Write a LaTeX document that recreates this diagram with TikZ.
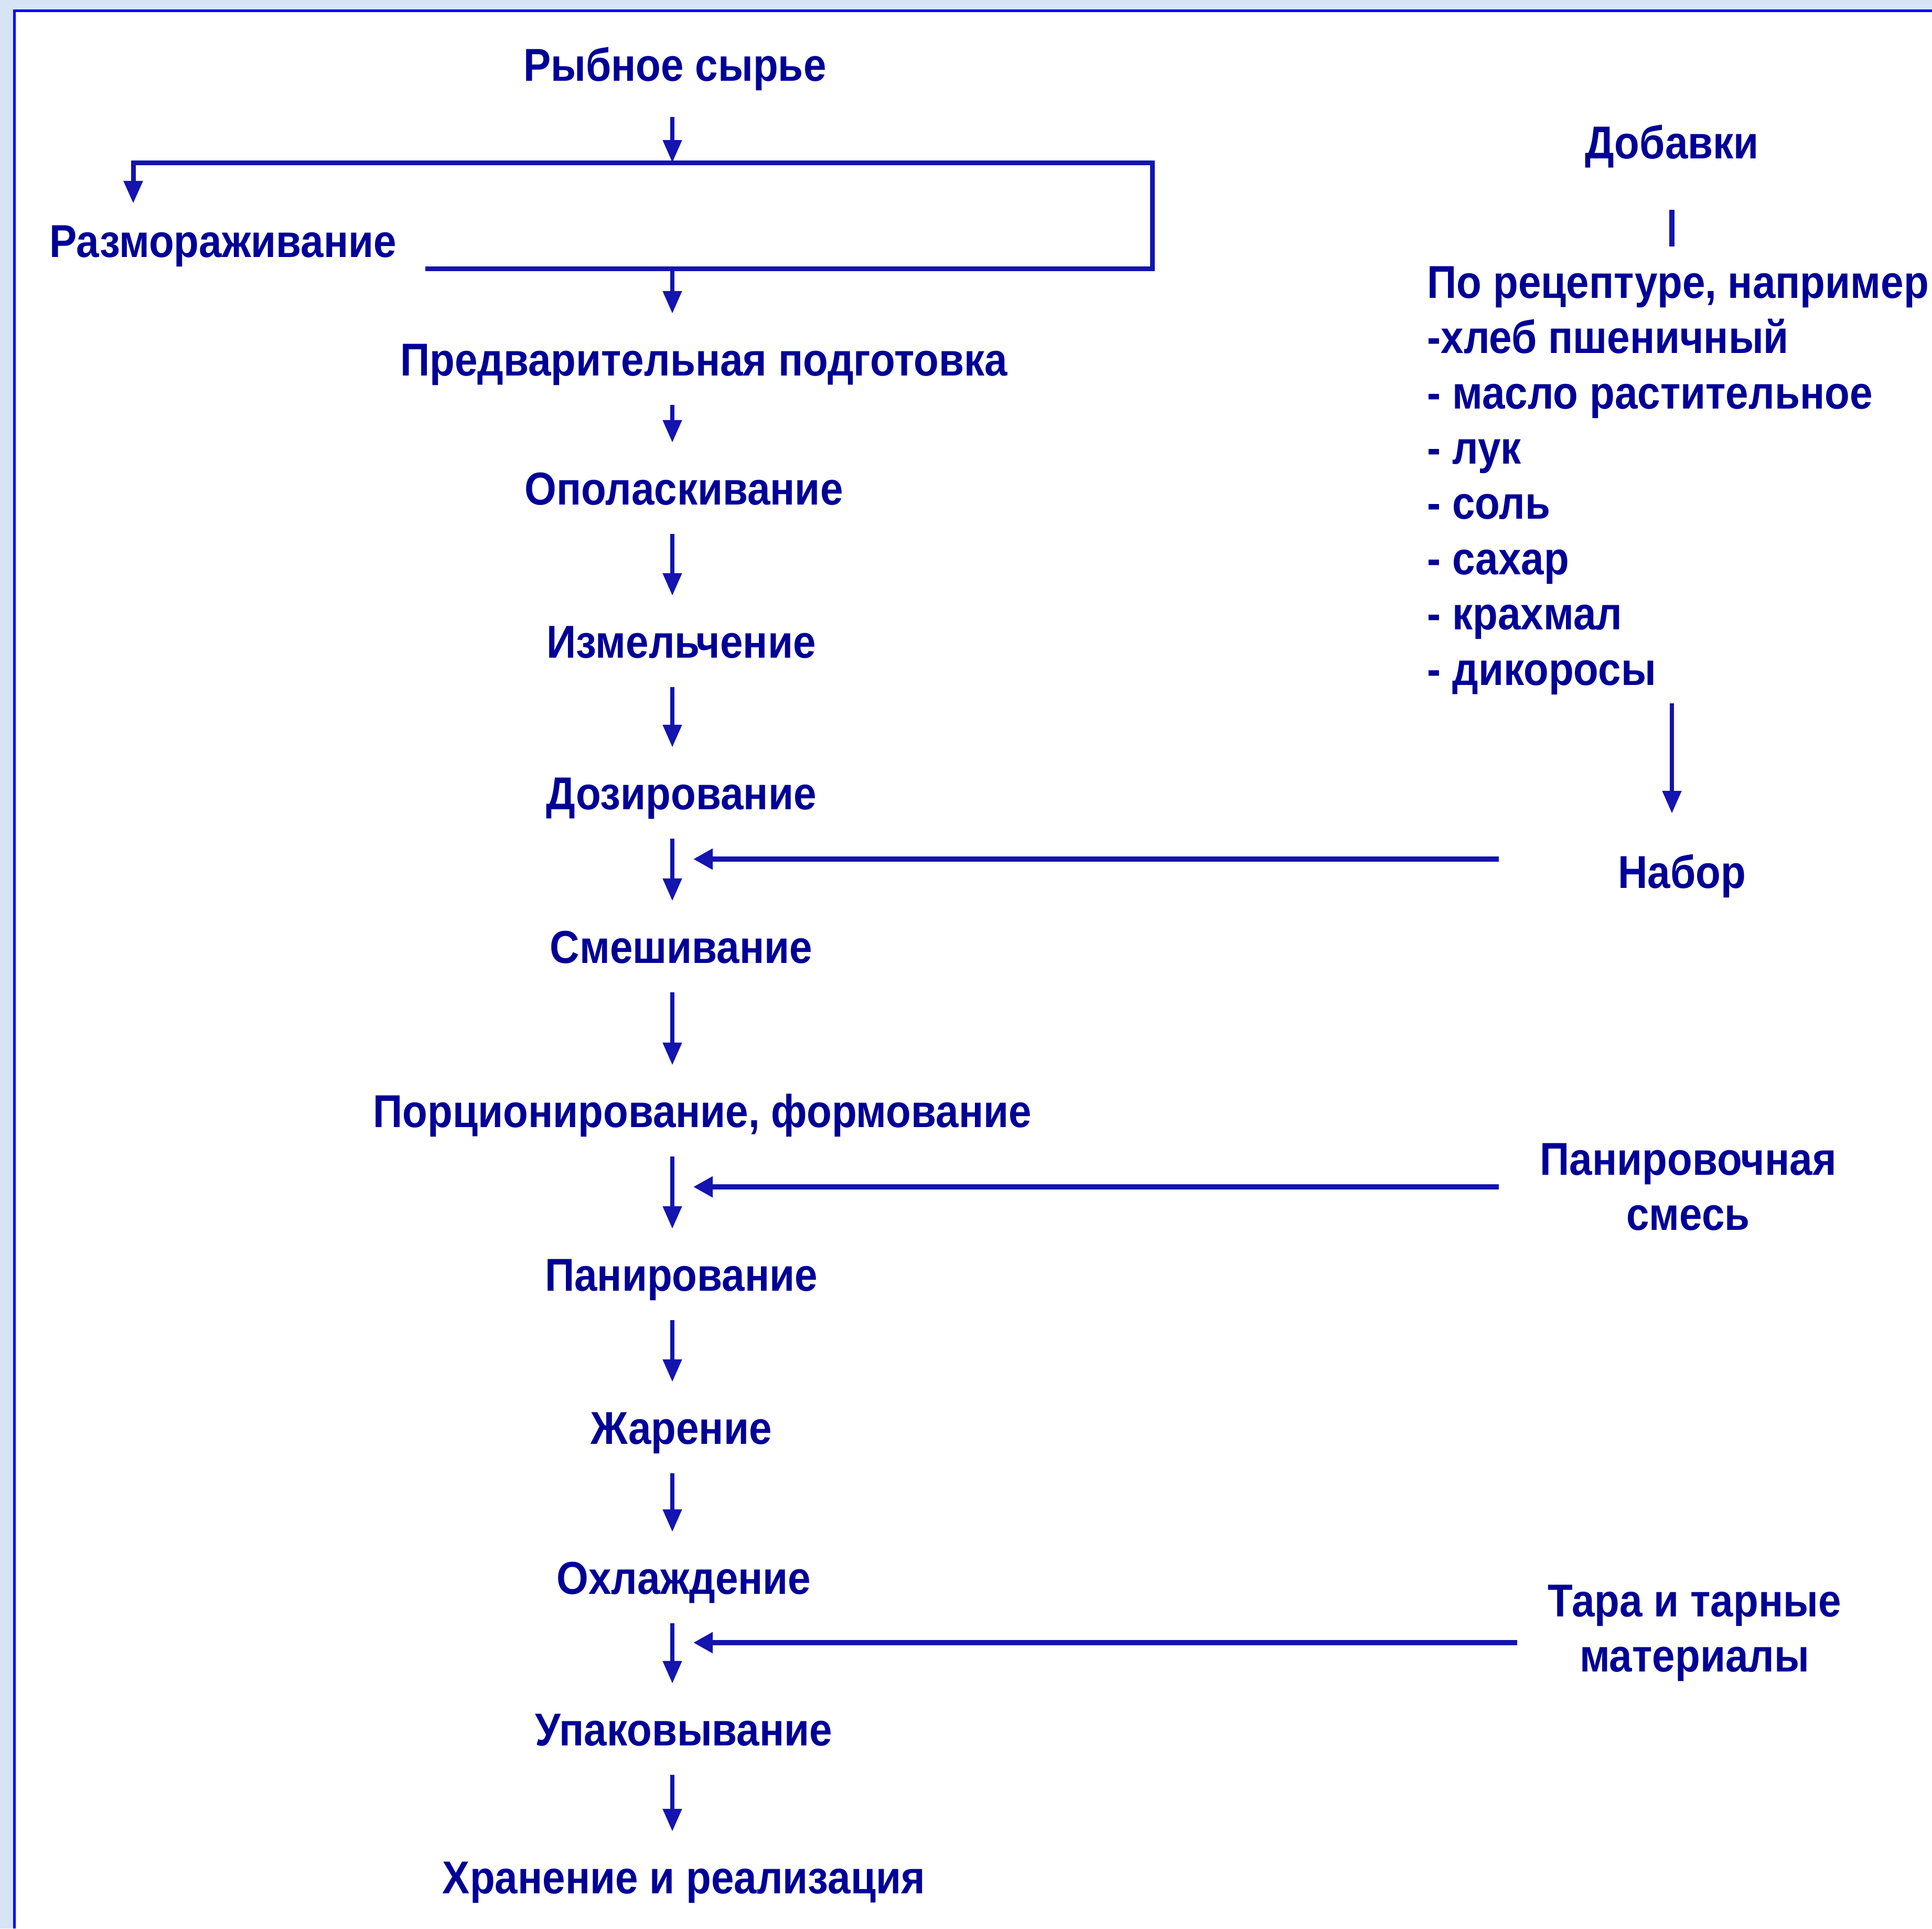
\documentclass[tikz,border=0pt]{standalone}
\usepackage{fontspec}
\setmainfont{Liberation Sans}[FakeStretch=0.89]
\usetikzlibrary{arrows.meta}
\definecolor{fishnavy}{RGB}{0,0,150}
\definecolor{fishline}{RGB}{20,20,175}
\definecolor{fishframe}{RGB}{0,0,255}
\definecolor{fishback}{RGB}{214,228,246}

\begin{document}
\begin{tikzpicture}[
      stage/.style={text=fishnavy, font=\bfseries\fontsize{25}{30}\selectfont, inner sep=0pt, text height=0.65cm, text depth=0cm},
      supply/.style={text=fishnavy, font=\bfseries\fontsize{25}{30}\selectfont, inner sep=0pt, align=center},
      flow/.style={draw=fishline, line width=0.08cm, -{Triangle[length=0.43cm,width=0.35cm]}},
      feed/.style={draw=fishline, line width=0.1cm, -{Triangle[length=0.37cm,width=0.38cm]}},
      pipe/.style={draw=fishline, line width=0.1cm}
    ]
      % page and frame
      \useasboundingbox (0,0) rectangle (36.84,-36.77);
      \fill[fishback] (0,0) rectangle (36.84,-36.77);
      \fill[white] (0.27,-0.20) rectangle (36.84,-36.77);
      \draw[fishframe, line width=0.05cm] (0.27,-36.77) -- (0.27,-0.20) -- (36.84,-0.20);

      % main line
      \node[stage] (raw) at (12.87,-1.22) {Рыбное сырье};
      \node[stage, anchor=west] (thaw) at (0.94,-4.58) {Размораживание};
      \node[stage] (prep) at (13.42,-6.84) {Предварительная подготовка};
      \node[stage] (rinse) at (13.04,-9.30) {Ополаскивание};
      \node[stage] (mince) at (12.99,-12.22) {Измельчение};
      \node[stage] (dose) at (12.99,-15.11) {Дозирование};
      \node[stage] (mix) at (12.99,-18.04) {Смешивание};
      \node[stage] (portion) at (13.39,-21.17) {Порционирование, формование};
      \node[stage] (bread) at (12.99,-24.29) {Панирование};
      \node[stage] (fry) at (12.99,-27.21) {Жарение};
      \node[stage] (cool) at (13.04,-30.07) {Охлаждение};
      \node[stage] (pack) at (13.04,-32.96) {Упаковывание};
      \node[stage] (store) at (13.04,-35.78) {Хранение и реализация};

      % side inputs
      \node[stage] (addit) at (31.88,-2.70) {Добавки};
      \node[supply, align=left, anchor=north west] (recipe) at (27.21,-5.07) {По рецептуре, например:\\-хлеб пшеничный\\- масло растительное\\- лук\\- соль\\- сахар\\- крахмал\\- дикоросы};
      \node[stage] (kit) at (32.07,-16.61) {Набор};
      \node[supply] (crumb) at (32.19,-22.63) {Панировочная\\смесь};
      \node[supply] (tare) at (32.31,-31.14) {Тара и тарные\\материалы};

      \coordinate (axis) at (12.82,0);
      \coordinate (loopnw) at (2.54,-3.10);
      \coordinate (loopne) at (21.97,-3.10);
      \coordinate (loopse) at (21.97,-5.12);
      \coordinate (stub) at (31.88,-4.70);
      \coordinate (j1) at (13.22,-16.38);
      \coordinate (j2) at (13.22,-22.63);
      \coordinate (j3) at (13.22,-31.32);

      % thawing bypass
      \draw[flow, shorten <=0.68cm] (raw.south -| axis) -- (axis |- loopne);
      \draw[flow, line width=0.09cm, shorten >=0.37cm] ([xshift=0.54cm]thaw.east |- loopse) -- (loopse) -- (loopne) -- (loopnw) -- (loopnw |- thaw.north);
      \draw[flow, shorten >=0.53cm] (axis |- loopse) -- (prep.north -| axis);

      \foreach \a/\b in {prep/rinse, rinse/mince, mince/dose, dose/mix, mix/portion, portion/bread, bread/fry, fry/cool, cool/pack, pack/store}
        \draw[flow, shorten <=0.55cm, shorten >=0.53cm] (\a.south -| axis) -- (\b.north -| axis);

      \draw[pipe, shorten <=0.97cm] (addit.south) -- (stub);
      \draw[flow, shorten <=0.16cm, shorten >=0.77cm] (recipe.south -| addit) -- (kit.north -| addit);

      \draw[feed, shorten <=2.26cm] (kit.west |- j1) -- (j1);
      \draw[feed, shorten <=0.78cm] (crumb.west |- j2) -- (j2);
      \draw[feed, shorten <=0.58cm] (tare.west |- j3) -- (j3);
    \end{tikzpicture}
\end{document}
